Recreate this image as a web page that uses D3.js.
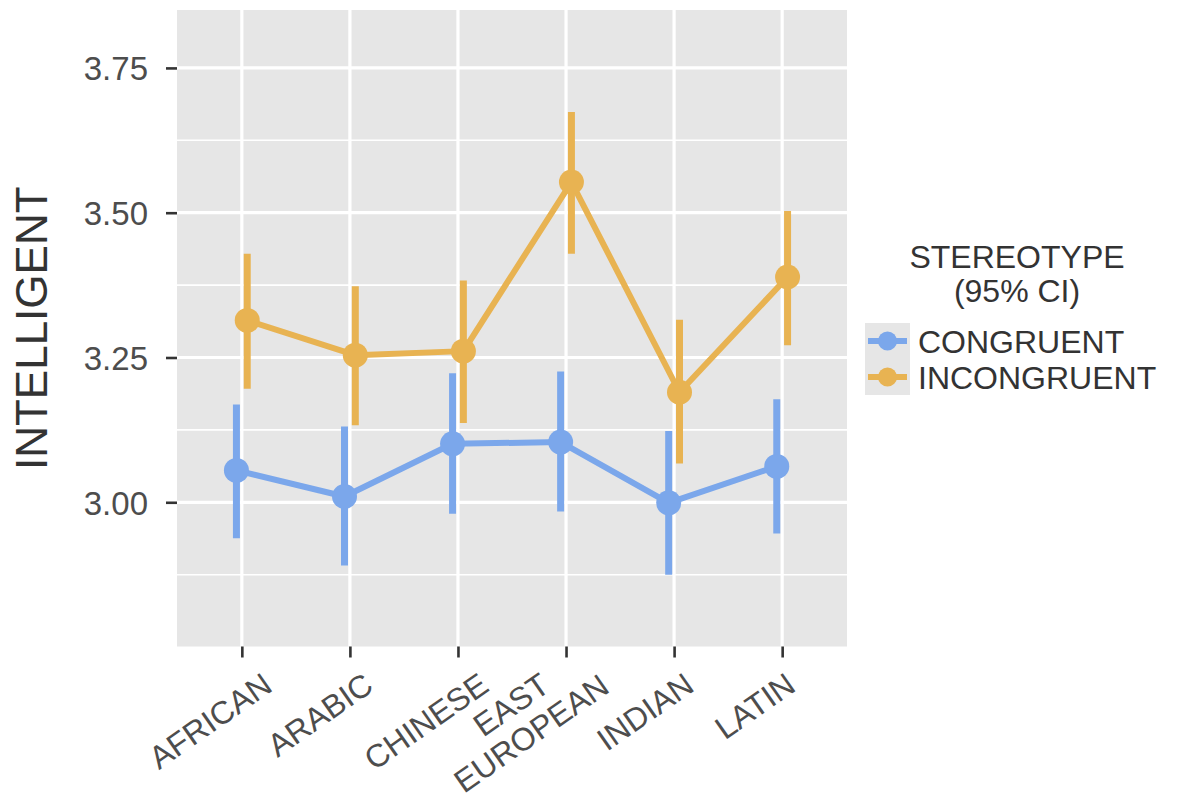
<!DOCTYPE html>
<html>
<head>
<meta charset="utf-8">
<script src="https://cdn.jsdelivr.net/npm/d3@7"></script>
<style>
  body { margin: 0; background: #ffffff; }
  text { font-family: "Liberation Sans", Arial, Helvetica, sans-serif; }
</style>
</head>
<body>
<svg id="chart" width="1178" height="796"></svg>
<script>
// ---- data -------------------------------------------------------------
const categories = ["AFRICAN", "ARABIC", "CHINESE", "EAST EUROPEAN", "INDIAN", "LATIN"];
const categoryLabels = [["AFRICAN"], ["ARABIC"], ["CHINESE"], ["EAST", "EUROPEAN"], ["INDIAN"], ["LATIN"]];

const congruentMean = [3.055, 3.010, 3.101, 3.104, 2.999, 3.062];
const congruentLow  = [2.938, 2.891, 2.980, 2.984, 2.875, 2.946];
const congruentHigh = [3.169, 3.131, 3.223, 3.226, 3.123, 3.178];

const incongruentMean = [3.314, 3.254, 3.261, 3.553, 3.190, 3.389];
const incongruentLow  = [3.196, 3.133, 3.137, 3.429, 3.067, 3.271];
const incongruentHigh = [3.429, 3.373, 3.383, 3.674, 3.315, 3.503];

const seriesNames = ["CONGRUENT", "INCONGRUENT"];
const seriesColors = ["#7ba7eb", "#e8b352"];

const yTicks = [3.00, 3.25, 3.50, 3.75];
const yMinorTicks = [2.875, 3.125, 3.375, 3.625];
const yTitle = "INTELLIGENT";
const legendTitle = ["STEREOTYPE", "(95% CI)"];

// ---- layout -----------------------------------------------------------
const panel = { left: 177, right: 847, top: 10, bottom: 646.5 };
const svg = d3.select("#chart");

const x = d3.scalePoint().domain(categories).range([panel.left, panel.right]).padding(0.6);
const y = d3.scaleLinear().domain([2.751, 3.850]).range([panel.bottom, panel.top]);
const dodge = 0.05 * x.step();

const series = [
  { name: seriesNames[0], color: seriesColors[0], offset: -dodge,
    rows: categories.map((c, i) => ({ c, m: congruentMean[i], lo: congruentLow[i], hi: congruentHigh[i] })) },
  { name: seriesNames[1], color: seriesColors[1], offset: dodge,
    rows: categories.map((c, i) => ({ c, m: incongruentMean[i], lo: incongruentLow[i], hi: incongruentHigh[i] })) }
];

// panel background and grid
svg.append("rect")
  .attr("x", panel.left).attr("y", panel.top)
  .attr("width", panel.right - panel.left).attr("height", panel.bottom - panel.top)
  .attr("fill", "#e6e6e6");

const grid = svg.append("g");
grid.selectAll(".minor").data(yMinorTicks).join("line")
  .attr("x1", panel.left).attr("x2", panel.right)
  .attr("y1", d => y(d)).attr("y2", d => y(d))
  .attr("stroke", "#ffffff").attr("stroke-width", 1.6);
grid.selectAll(".major").data(yTicks).join("line")
  .attr("x1", panel.left).attr("x2", panel.right)
  .attr("y1", d => y(d)).attr("y2", d => y(d))
  .attr("stroke", "#ffffff").attr("stroke-width", 3.2);
grid.selectAll(".vmajor").data(categories).join("line")
  .attr("x1", d => x(d)).attr("x2", d => x(d))
  .attr("y1", panel.top).attr("y2", panel.bottom)
  .attr("stroke", "#ffffff").attr("stroke-width", 3.2);

// connecting lines
const line = d3.line().x(d => x(d.c)).y(d => y(d.m));
series.forEach(s => {
  svg.append("path")
    .datum(s.rows)
    .attr("transform", `translate(${s.offset},0)`)
    .attr("d", line)
    .attr("fill", "none")
    .attr("stroke", s.color)
    .attr("stroke-width", 6)
    .attr("stroke-linejoin", "round");
});

// confidence intervals and means
series.forEach(s => {
  const g = svg.append("g");
  g.selectAll("line").data(s.rows).join("line")
    .attr("x1", d => x(d.c) + s.offset).attr("x2", d => x(d.c) + s.offset)
    .attr("y1", d => y(d.lo)).attr("y2", d => y(d.hi))
    .attr("stroke", s.color).attr("stroke-width", 7);
  g.selectAll("circle").data(s.rows).join("circle")
    .attr("cx", d => x(d.c) + s.offset).attr("cy", d => y(d.m))
    .attr("r", 12.5).attr("fill", s.color);
});

// y axis
const yAxis = svg.append("g")
  .attr("transform", `translate(${panel.left},0)`)
  .call(d3.axisLeft(y).tickValues(yTicks).tickFormat(d3.format(".2f")).tickSize(11).tickPadding(18));
yAxis.select(".domain").remove();
yAxis.selectAll(".tick line").attr("stroke", "#333333").attr("stroke-width", 2.6);
yAxis.selectAll(".tick text")
  .attr("fill", "#4d4d4d").attr("dy", "0.36em")
  .style("font-size", "33px");

// x axis ticks
const xAxis = svg.append("g")
  .attr("transform", `translate(0,${panel.bottom})`)
  .call(d3.axisBottom(x).tickSize(11).tickFormat(""));
xAxis.select(".domain").remove();
xAxis.selectAll(".tick line").attr("stroke", "#333333").attr("stroke-width", 2.6);

// rotated category labels
const ang = -35, rad = ang * Math.PI / 180, cs = Math.cos(rad), sn = Math.sin(rad);
const labelSize = 32, cap = 0.716 * labelSize, lineH = 35;
const xLabels = svg.append("g");
categories.forEach((cat, i) => {
  const lines = categoryLabels[i];
  const g = xLabels.append("g");
  const widths = lines.map((t, j) => {
    const el = g.append("text")
      .attr("text-anchor", "middle").attr("x", 0).attr("y", j * lineH)
      .attr("fill", "#4d4d4d").style("font-size", labelSize + "px")
      .text(t);
    return el.node().getComputedTextLength();
  });
  const xs = [], ys = [];
  lines.forEach((t, j) => {
    const w = widths[j], b = j * lineH;
    [[-w / 2, b], [w / 2, b], [-w / 2, b - cap], [w / 2, b - cap]].forEach(([px, py]) => {
      xs.push(px * cs - py * sn);
      ys.push(px * sn + py * cs);
    });
  });
  const minX = d3.min(xs), maxX = d3.max(xs), minY = d3.min(ys);
  const tx = x(cat) - 19 - (minX + 0.6 * (maxX - minX));
  const ty = 671 - minY;
  g.attr("transform", `translate(${tx},${ty}) rotate(${ang})`);
});

// y axis title
svg.append("text")
  .attr("transform", `translate(47,${(panel.top + panel.bottom) / 2}) rotate(-90)`)
  .attr("text-anchor", "middle")
  .attr("fill", "#333333")
  .style("font-size", "44px")
  .text(yTitle);

// legend
const legend = svg.append("g");
legend.selectAll(".ltitle").data(legendTitle).join("text")
  .attr("x", 1017).attr("y", (d, i) => 267.5 + i * 34.5)
  .attr("text-anchor", "middle")
  .attr("fill", "#333333")
  .style("font-size", "32px")
  .text(d => d);

const keyX = 865, keyW = 45, keyY = 323, keyH = 36;
legend.append("rect")
  .attr("x", keyX).attr("y", keyY).attr("width", keyW).attr("height", keyH * series.length)
  .attr("fill", "#e6e6e6");
series.forEach((s, i) => {
  const cy = keyY + keyH * i + keyH / 2;
  legend.append("line")
    .attr("x1", keyX + 3).attr("x2", keyX + keyW - 3)
    .attr("y1", cy).attr("y2", cy)
    .attr("stroke", s.color).attr("stroke-width", 6);
  legend.append("circle")
    .attr("cx", keyX + keyW / 2).attr("cy", cy).attr("r", 9.5)
    .attr("fill", s.color);
  legend.append("text")
    .attr("x", 918).attr("y", cy + 11.5)
    .attr("fill", "#333333")
    .style("font-size", "32px")
    .text(s.name);
});
</script>
</body>
</html>
